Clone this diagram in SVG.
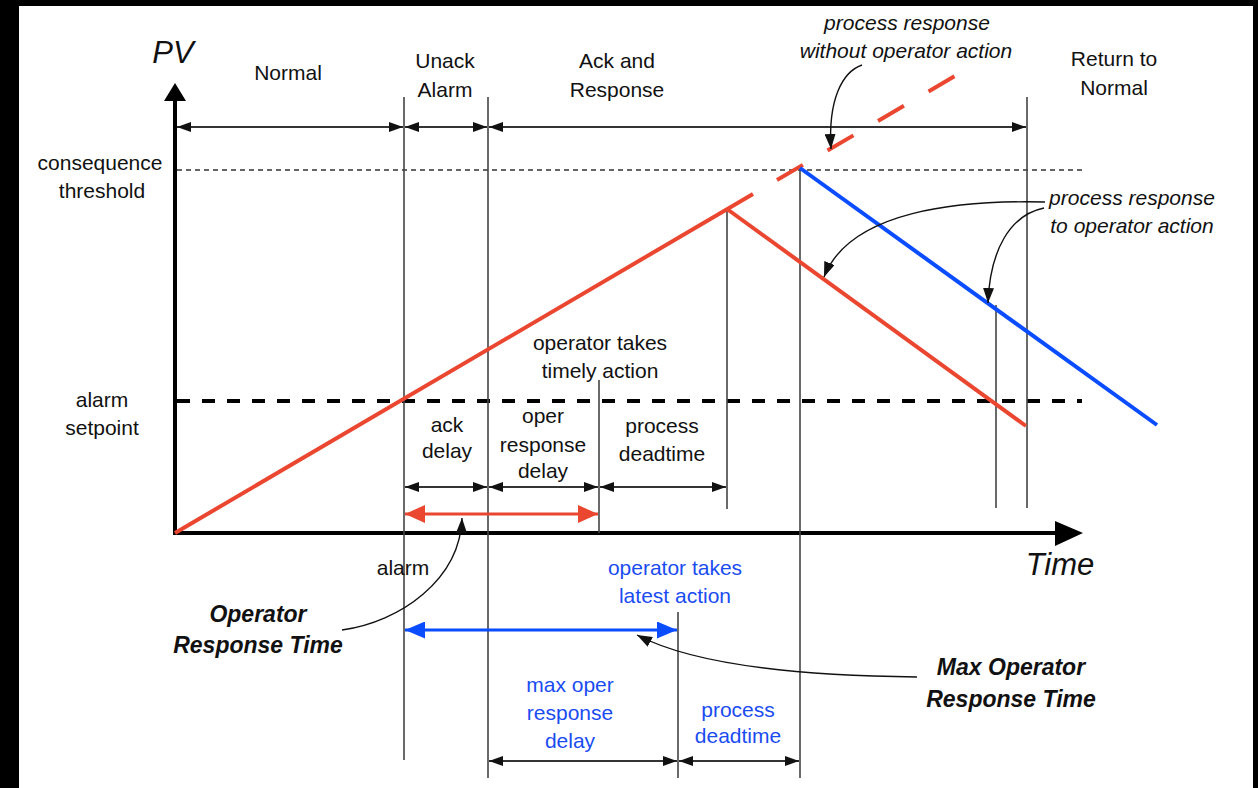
<svg xmlns="http://www.w3.org/2000/svg" width="1258" height="788" viewBox="0 0 1258 788">
<style>
.t{font-family:"Liberation Sans",Arial,sans-serif;font-size:21px;fill:#111;text-anchor:middle}
.it{font-style:italic}
.bi{font-style:italic;font-weight:bold;font-size:23px}
.big{font-style:italic;font-size:31px}
.bl{fill:#1a4cf2}
.vl{stroke:#444;stroke-width:1.6;fill:none}
.dim{stroke:#333;stroke-width:1.8;fill:none;marker-start:url(#ah);marker-end:url(#ah)}
.co{stroke:#111;stroke-width:1.4;fill:none;marker-end:url(#ca)}
.red{stroke:#ea4630;stroke-width:4;fill:none}
.blu{stroke:#0a4cff;stroke-width:4;fill:none}
</style>
<defs>
<marker id="ah" viewBox="0 0 14 10" refX="14" refY="5" markerWidth="14" markerHeight="10" markerUnits="userSpaceOnUse" orient="auto-start-reverse"><path d="M0,0 L14,5 L0,10 Z" fill="#111"/></marker>
<marker id="ca" viewBox="0 0 15 11" refX="15" refY="5.5" markerWidth="15" markerHeight="11" markerUnits="userSpaceOnUse" orient="auto"><path d="M0,0 L15,5.5 L0,11 Z" fill="#111"/></marker>
<marker id="ra" viewBox="0 0 20 18" refX="20" refY="9" markerWidth="20" markerHeight="18" markerUnits="userSpaceOnUse" orient="auto-start-reverse"><path d="M0,0 L20,9 L0,18 Z" fill="#ea4630"/></marker>
<marker id="ba" viewBox="0 0 20 17" refX="20" refY="8.5" markerWidth="20" markerHeight="17" markerUnits="userSpaceOnUse" orient="auto-start-reverse"><path d="M0,0 L20,8.5 L0,17 Z" fill="#0a4cff"/></marker>
</defs>
<rect x="0" y="0" width="1258" height="788" fill="#000"/>
<rect x="19" y="6" width="1234" height="782" fill="#fff"/>

<g id="axes">
<line x1="175" y1="535" x2="175" y2="98" stroke="#000" stroke-width="4"/>
<polygon points="164,101 175,83 186,101" fill="#000"/>
<line x1="173" y1="533" x2="1058" y2="533" stroke="#000" stroke-width="4"/>
<polygon points="1055,521 1083,533 1055,546" fill="#000"/>
<text class="t big" x="173" y="63">PV</text>
<text class="t big" x="1060" y="575">Time</text>
</g>

<g id="thresholds">
<line x1="177" y1="170" x2="1082" y2="170" stroke="#333" stroke-width="1.4" stroke-dasharray="5 4"/>
<line x1="177" y1="401" x2="1082" y2="401" stroke="#000" stroke-width="4" stroke-dasharray="13 12"/>
<text class="t" x="100" y="170">consequence</text>
<text class="t" x="102" y="198">threshold</text>
<text class="t" x="102" y="407">alarm</text>
<text class="t" x="102" y="435">setpoint</text>
</g>

<g id="verticals">
<line class="vl" x1="404" y1="97" x2="404" y2="760"/>
<line class="vl" x1="488" y1="97" x2="488" y2="778"/>
<line class="vl" x1="599" y1="380" x2="599" y2="533"/>
<line class="vl" x1="727" y1="209" x2="727" y2="509"/>
<line class="vl" x1="800" y1="168" x2="800" y2="778"/>
<line class="vl" x1="678" y1="612" x2="678" y2="778"/>
<line class="vl" x1="996" y1="305" x2="996" y2="508"/>
<line class="vl" x1="1027" y1="97" x2="1027" y2="508"/>
</g>

<g id="process-lines">
<line class="red" x1="175" y1="533" x2="753" y2="194"/>
<line class="red" x1="777" y1="180" x2="955" y2="76" stroke-dasharray="30 28.5"/>
<line class="red" x1="727" y1="209" x2="1026" y2="426"/>
<line class="blu" x1="800" y1="168" x2="1157" y2="425"/>
</g>

<g id="connectors">
<line class="dim" x1="177" y1="127" x2="403" y2="127"/>
<line class="dim" x1="405" y1="127" x2="487" y2="127"/>
<line class="dim" x1="489" y1="127" x2="1026" y2="127"/>
<line class="dim" x1="405" y1="487" x2="487" y2="487"/>
<line class="dim" x1="489" y1="487" x2="598" y2="487"/>
<line class="dim" x1="600" y1="487" x2="726" y2="487"/>
<line class="dim" x1="489" y1="761" x2="677" y2="761"/>
<line class="dim" x1="679" y1="761" x2="799" y2="761"/>
<line x1="405" y1="514" x2="598" y2="514" stroke="#ea4630" stroke-width="3" marker-start="url(#ra)" marker-end="url(#ra)"/>
<line x1="405" y1="630" x2="677" y2="630" stroke="#0a4cff" stroke-width="3" marker-start="url(#ba)" marker-end="url(#ba)"/>
<path class="co" d="M862,65 C842,72 828,100 831,149"/>
<path class="co" d="M1045,202 C960,200 850,210 824,277"/>
<path class="co" d="M1044,208 C1010,215 990,250 988,303"/>
<path class="co" d="M342,630 C400,622 460,580 462,518"/>
<path class="co" d="M917,677 C820,676 700,668 637,635"/>
</g>

<g id="phase-labels">
<text class="t" x="288" y="80">Normal</text>
<text class="t" x="445" y="68">Unack</text>
<text class="t" x="445" y="97">Alarm</text>
<text class="t" x="617" y="68">Ack and</text>
<text class="t" x="617" y="97">Response</text>
<text class="t" x="1114" y="66">Return to</text>
<text class="t" x="1114" y="95">Normal</text>
</g>

<g id="annotations">
<text class="t it" x="907" y="30">process response</text>
<text class="t it" x="906" y="58">without operator action</text>
<text class="t it" x="1132" y="205">process response</text>
<text class="t it" x="1132" y="233">to operator action</text>
<text class="t" x="600" y="350">operator takes</text>
<text class="t" x="600" y="378">timely action</text>
<text class="t" x="447" y="432">ack</text>
<text class="t" x="447" y="458">delay</text>
<text class="t" x="543" y="423">oper</text>
<text class="t" x="543" y="452">response</text>
<text class="t" x="543" y="478">delay</text>
<text class="t" x="662" y="433">process</text>
<text class="t" x="662" y="461">deadtime</text>
<text class="t" x="403" y="575">alarm</text>
<text class="t bi" x="258" y="622">Operator</text>
<text class="t bi" x="258" y="653">Response Time</text>
<text class="t bl" x="675" y="575">operator takes</text>
<text class="t bl" x="675" y="603">latest action</text>
<text class="t bl" x="570" y="692">max oper</text>
<text class="t bl" x="570" y="720">response</text>
<text class="t bl" x="570" y="748">delay</text>
<text class="t bl" x="738" y="717">process</text>
<text class="t bl" x="738" y="743">deadtime</text>
<text class="t bi" x="1011" y="675">Max Operator</text>
<text class="t bi" x="1011" y="707">Response Time</text>
</g>
</svg>
